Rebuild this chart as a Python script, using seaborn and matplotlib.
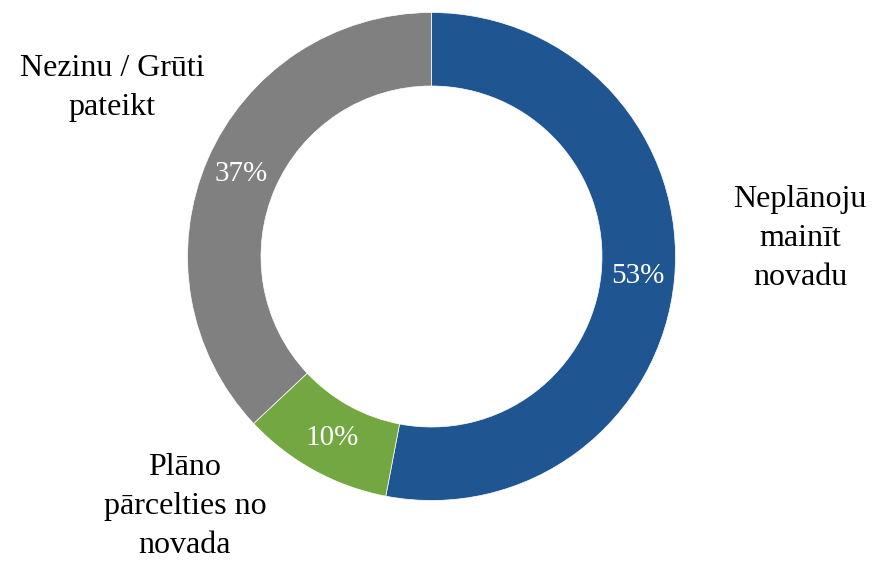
import matplotlib
matplotlib.use("Agg")
import matplotlib.pyplot as plt
import seaborn as sns

categories = ["Neplānoju\nmainīt\nnovadu", "Plāno\npārcelties no\nnovada", "Nezinu / Grūti\npateikt"]
values = [53, 10, 37]
colors = ["#1F5591", "#72A741", "#808080"]

sns.set_style("white")
plt.rcParams["font.family"] = ["Liberation Serif", "DejaVu Serif"]

W, H = 873, 561
fig = plt.figure(figsize=(W / 100, H / 100), dpi=100)
ax = fig.add_axes([0, 0, 1, 1])

cx, cy = 431.5, H - 256.5
R = 244
ring = 73.5

wedges, texts, autotexts = ax.pie(
    values,
    colors=colors,
    startangle=90,
    counterclock=False,
    center=(cx, cy),
    radius=R,
    autopct=lambda p: f"{p:.0f}%",
    pctdistance=(R - ring / 2) / R,
    wedgeprops=dict(width=ring, edgecolor="white", linewidth=0.5),
    textprops=dict(color="white", fontsize=21),
    frame=True,
)
ax.set_xlim(0, W)
ax.set_ylim(0, H)
ax.set_aspect("equal")
ax.axis("off")

# last-line baselines (pixels from top) and block centres
label_pos = [(800, H - 285), (185, H - 553), (112, H - 115)]
for txt, (x, y) in zip(categories, label_pos):
    ax.text(x, y, txt, ha="center", va="baseline", multialignment="center",
            fontsize=23, color="#000000", linespacing=1.45)

fig.savefig("out.png", dpi=100)
